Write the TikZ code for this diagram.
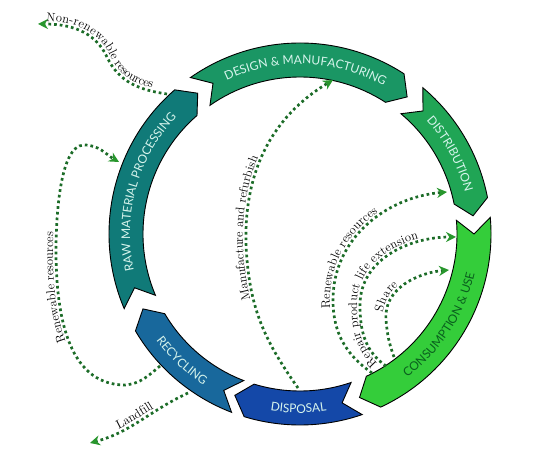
\documentclass[tikz,border=0pt]{standalone}
\usepackage{fontspec}
\newfontfamily\bandfont{Lato}
\usepackage{tikz}
\usetikzlibrary{arrows.meta, decorations.text}

\definecolor{rawfill}{RGB}{16,122,120}
\definecolor{designfill}{RGB}{26,150,100}
\definecolor{distfill}{RGB}{32,165,85}
\definecolor{usefill}{RGB}{52,205,58}
\definecolor{disposefill}{RGB}{20,72,168}
\definecolor{recyclefill}{RGB}{24,104,156}
\definecolor{paletext}{RGB}{214,244,236}
\definecolor{usetext}{RGB}{10,96,30}
\definecolor{flowline}{RGB}{28,108,40}
\definecolor{flowtip}{RGB}{40,150,45}

\newcommand\capfont{\bandfont\fontsize{12}{14}\selectfont}
\newcommand\tagfont{\fontsize{12.5}{14}\selectfont}

\begin{document}
\begin{tikzpicture}[
        x=1pt, y=1pt,
        band/.style={draw=black, line width=0.9pt},
        flow/.style={draw=flowline, line width=2.7pt, dash pattern=on 2.7pt off 3pt, -{Stealth[length=10pt, width=10pt, color=flowtip]}},
        flowtag/.style={decorate, decoration={text along path, raise=3pt, text color=black, text align={left, left indent=#1}}},
        flowtag/.default=0pt,
        bandtext/.style={decorate, decoration={text along path, text align=center, text color=#1}}
    ]
    \useasboundingbox (0,0) rectangle (540,465);

    \begin{scope}[shift={(300,231)}]
        \foreach \tail/\head/\col in {203/131/rawfill, 125/57/designfill, 50/11/distfill, 5/-65/usefill, -71/-107/disposefill, -111/-149.5/recyclefill}
            \filldraw[band, fill=\col] (\tail:191) arc[start angle=\tail, end angle=\head, radius=191]
                -- ({\head-5}:174) -- (\head:157) arc[start angle=\head, end angle=\tail, radius=157]
                -- ({\tail-5}:174) -- cycle;

        \path[bandtext=paletext, decoration={text={|\capfont|RAW MATERIAL PROCESSING}}] (204.5:170) arc[start angle=204.5, end angle=124.5, radius=170];
        \path[bandtext=paletext, decoration={text={|\capfont|DESIGN {\&} MANUFACTURING}}] (130:170) arc[start angle=130, end angle=46, radius=170];
        \path[bandtext=paletext, decoration={text={|\capfont|DISTRIBUTION}}] (58:170) arc[start angle=58, end angle=-2, radius=170];
        \path[bandtext=usetext, decoration={text={|\capfont|CONSUMPTION {\&} USE}}] (-73:179) arc[start angle=-73, end angle=7, radius=179];
        \path[bandtext=paletext, decoration={text={|\capfont|DISPOSAL}}] (-120:179) arc[start angle=-120, end angle=-61, radius=179];
        \path[bandtext=paletext, decoration={text={|\capfont|RECYCLING}}] (-163:179) arc[start angle=-163, end angle=-103, radius=179];
    \end{scope}

    \coordinate (nr-start) at (167,371);
    \coordinate (nr-bend) at (107,408);
    \coordinate (nr-end) at (38,441);
    \draw[flow] (nr-start) to[out=172, in=-65] (nr-bend) to[out=115, in=0] (nr-end);
    \path[flowtag=8pt, decoration={text={|\tagfont|Non-renewable resources}}] (nr-end) to[out=0, in=115] (nr-bend) to[out=-65, in=172] (nr-start);

    \coordinate (rl-start) at (160,99);
    \coordinate (rl-low) at (125,80);
    \coordinate (rl-side) at (56,215);
    \coordinate (rl-top) at (84,320);
    \coordinate (rl-end) at (119,303);
    \draw[flow] (rl-start) to[out=220, in=5] (rl-low) to[out=180, in=-90] (rl-side) to[out=90, in=180, looseness=0.6] (rl-top) to[out=0, in=150] (rl-end);
    \path[flowtag=118pt, decoration={text={|\tagfont|Renewable resources}}] (rl-start) to[out=220, in=5] (rl-low) to[out=180, in=-90] (rl-side) to[out=90, in=180, looseness=0.6] (rl-top);

    \coordinate (lf-start) at (188,72);
    \coordinate (lf-end) at (90,22);
    \draw[flow] (lf-start) to[out=205, in=15] (lf-end);
    \path[flowtag=32pt, decoration={text={|\tagfont|Landfill}}] (lf-end) to[out=15, in=205] (lf-start);

    \coordinate (mr-start) at (298,77);
    \coordinate (mr-side) at (247,205);
    \coordinate (mr-end) at (333,385);
    \draw[flow] (mr-start) to[out=125, in=-85] (mr-side) to[out=95, in=-149] (mr-end);
    \path[flowtag=100pt, decoration={text={|\tagfont|Manufacture and refurbish}}] (mr-start) to[out=125, in=-85] (mr-side) to[out=95, in=-149] (mr-end);

    \coordinate (rr-start) at (372,92);
    \coordinate (rr-side) at (333,165);
    \coordinate (rr-end) at (447,273);
    \draw[flow] (rr-start) to[out=145, in=-90] (rr-side) to[out=90, in=185] (rr-end);
    \path[flowtag=78pt, decoration={text={|\tagfont|Renewable resources}}] (rr-start) to[out=145, in=-90] (rr-side) to[out=90, in=185] (rr-end);

    \coordinate (rp-start) at (386,99);
    \coordinate (rp-side) at (360,160);
    \coordinate (rp-end) at (456,228);
    \draw[flow] (rp-start) to[out=145, in=-90] (rp-side) to[out=90, in=180] (rp-end);
    \path[flowtag=8pt, decoration={text={|\tagfont|Repair product life extension}}] (rp-start) to[out=145, in=-90] (rp-side) to[out=90, in=180] (rp-end);

    \coordinate (sh-start) at (394,108);
    \coordinate (sh-side) at (386,145);
    \coordinate (sh-end) at (449,195);
    \draw[flow] (sh-start) to[out=110, in=-85] (sh-side) to[out=95, in=185] (sh-end);
    \path[flowtag=45pt, decoration={text={|\tagfont|Share}}] (sh-start) to[out=110, in=-85] (sh-side) to[out=95, in=185] (sh-end);

\end{tikzpicture}
\end{document}
